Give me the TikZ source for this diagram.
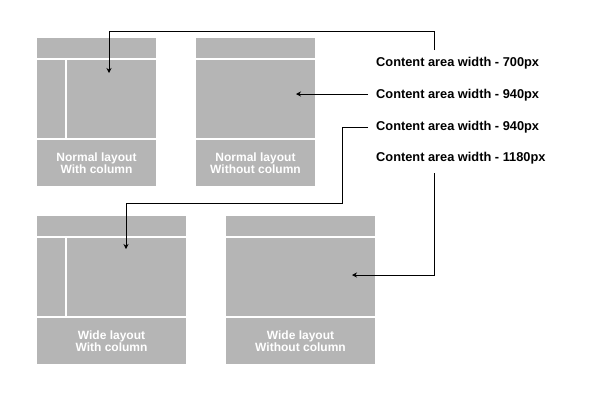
\documentclass[tikz,border=0pt]{standalone}
\usepackage{fontspec}
\setmainfont{Liberation Sans}
\usetikzlibrary{arrows.meta,calc}
\definecolor{boxgray}{RGB}{181,181,181}
\tikzset{
  x=1pt,y=-1pt,
  panel/.style={fill=boxgray,draw=none,anchor=north west,inner sep=0},
  divider/.style={white,line width=2pt},
  foot/.style={text=white,font=\bfseries\fontsize{12}{12.5}\selectfont,align=center,inner sep=0},
  lbl/.style={font=\bfseries\fontsize{12.8}{14}\selectfont,anchor=west,inner sep=0},
  conn/.style={black,line width=0.9pt,-{Stealth[length=5pt,width=5pt]}}
}
\begin{document}
\begin{tikzpicture}
\useasboundingbox (0,0) rectangle (600,400);
% panels
\node[panel,minimum width=119pt,minimum height=148pt] (b1) at (37,38) {};
\node[panel,minimum width=119pt,minimum height=148pt] (b2) at (196,38) {};
\node[panel,minimum width=149pt,minimum height=148pt] (b3) at (37,216) {};
\node[panel,minimum width=149pt,minimum height=148pt] (b4) at (226,216) {};
% dividers
\draw[divider] (37,59) -- (156,59);
\draw[divider] (37,139) -- (156,139);
\draw[divider] (66,59) -- (66,139);
\draw[divider] (196,59) -- (315,59);
\draw[divider] (196,139) -- (315,139);
\draw[divider] (37,237) -- (186,237);
\draw[divider] (37,317) -- (186,317);
\draw[divider] (66,237) -- (66,317);
\draw[divider] (226,237) -- (375,237);
\draw[divider] (226,317) -- (375,317);
% footer texts
\node[foot] (f1) at (96.5,163) {Normal layout\\With column};
\node[foot] (f2) at (255.5,163) {Normal layout\\Without column};
\node[foot] (f3) at (111.5,341) {Wide layout\\With column};
\node[foot] (f4) at (300.5,341) {Wide layout\\Without column};
% labels
\node[lbl] (l1) at (376,63) {Content area width - 700px};
\node[lbl] (l2) at (376,95) {Content area width - 940px};
\node[lbl] (l3) at (376,127) {Content area width - 940px};
\node[lbl] (l4) at (376,158) {Content area width - 1180px};
% targets
\coordinate (t1) at (109,73);
\coordinate (t2) at (296,94);
\coordinate (t3) at (126,249);
\coordinate (t4) at (352,275);
\coordinate (s1) at (434,50);
\coordinate (s4) at (434,173);
% connectors
\draw[conn] (s1) -- (434,31) -| (t1);
\draw[conn] (l2.west |- t2) ++(-8,0) -- (t2);
\draw[conn] ([xshift=-8pt]l3.west) -- (342,127) -- (342,203) -| (t3);
\draw[conn] (s4) |- (t4);
\end{tikzpicture}
\end{document}
